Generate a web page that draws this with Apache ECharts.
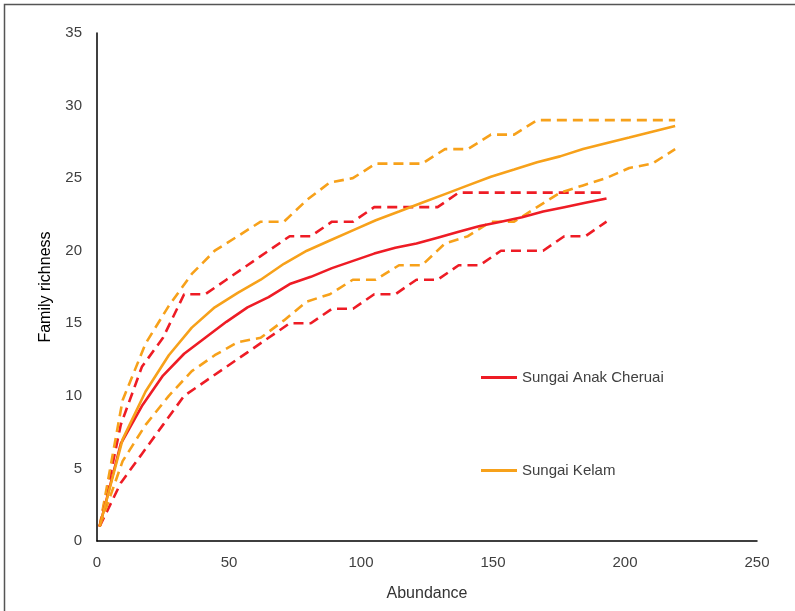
<!DOCTYPE html>
<html>
<head>
<meta charset="utf-8">
<script src="https://cdn.jsdelivr.net/npm/echarts@6/dist/echarts.min.js"></script>
<style>
html, body { margin: 0; padding: 0; background: #fff; }
#main { width: 795px; height: 611px; }
</style>
</head>
<body>
<div id="main"></div>
<script>
// Sungai Anak Cheruai
var cheruaiX = [1, 9, 17, 25, 33, 41, 49, 57, 65, 73, 81, 89, 97, 105, 113, 121, 129, 137, 145, 153, 161, 169, 177, 185, 193];
var cheruaiMean = [1, 6.7, 9.3, 11.4, 12.9, 14.0, 15.1, 16.1, 16.8, 17.7, 18.2, 18.8, 19.3, 19.8, 20.2, 20.5, 20.9, 21.3, 21.7, 22.0, 22.3, 22.7, 23.0, 23.3, 23.6];
var cheruaiUpper = [1, 8, 12, 14, 17, 17, 18, 19, 20, 21, 21, 22, 22, 23, 23, 23, 23, 24, 24, 24, 24, 24, 24, 24, 24];
var cheruaiLower = [1, 4, 6, 8, 10, 11, 12, 13, 14, 15, 15, 16, 16, 17, 17, 18, 18, 19, 19, 20, 20, 20, 21, 21, 22];

// Sungai Kelam
var kelamX = [1, 9.7, 18.4, 27.2, 35.9, 44.6, 53.3, 62, 70.8, 79.5, 88.2, 96.9, 105.6, 114.4, 123.1, 131.8, 140.5, 149.2, 158, 166.7, 175.4, 184.1, 192.8, 201.6, 210.3, 219];
var kelamMean = [1, 7, 10.3, 12.8, 14.7, 16.1, 17.1, 18.0, 19.1, 20.0, 20.7, 21.4, 22.1, 22.7, 23.3, 23.9, 24.5, 25.1, 25.6, 26.1, 26.5, 27.0, 27.4, 27.8, 28.2, 28.6];
var kelamUpper = [1, 9.7, 13.6, 16.2, 18.4, 20, 21, 22, 22, 23.5, 24.7, 25, 26, 26, 26, 27, 27, 28, 28, 29, 29, 29, 29, 29, 29, 29];
var kelamLower = [1, 5.5, 8, 10, 11.7, 12.8, 13.7, 14, 15.2, 16.5, 17, 18, 18, 19, 19, 20.5, 21, 22, 22, 23, 24, 24.5, 25, 25.7, 26, 27];

var xTicks = [0, 50, 100, 150, 200, 250];
var yTicks = [0, 5, 10, 15, 20, 25, 30, 35];

var red = '#EE1C25';
var orange = '#F7A11A';

function pairs(xs, ys) {
    return xs.map(function (x, i) { return [x, ys[i]]; });
}

function lineSeries(name, xs, ys, color, dashed) {
    return {
        name: name,
        type: 'line',
        data: pairs(xs, ys),
        showSymbol: false,
        symbol: 'none',
        silent: true,
        z: dashed ? 2 : 3,
        lineStyle: {
            color: color,
            width: 2.6,
            type: dashed ? [10, 6] : 'solid'
        },
        itemStyle: { color: color }
    };
}

var dom = document.getElementById('main');
var myChart = echarts.init(dom);
var font = '"Liberation Sans", Arial, sans-serif';

var option = {
    animation: false,
    textStyle: { fontFamily: font },
    grid: { left: 97, right: 38, top: 33, bottom: 70 },
    legend: {
        data: ['Sungai Anak Cheruai', 'Sungai Kelam'],
        orient: 'vertical',
        left: 476,
        top: 365,
        itemWidth: 36,
        itemHeight: 3,
        itemGap: 78,
        icon: 'rect',
        textStyle: { color: '#404040', fontSize: 15, fontFamily: font }
    },
    xAxis: {
        type: 'value',
        min: xTicks[0],
        max: xTicks[xTicks.length - 1],
        interval: 50,
        name: 'Abundance',
        nameLocation: 'middle',
        nameGap: 45,
        nameTextStyle: { color: '#333', fontSize: 16 },
        axisLine: { show: true, onZero: false, lineStyle: { color: '#000', width: 1.5 } },
        axisTick: { show: false },
        splitLine: { show: false },
        axisLabel: { color: '#404040', fontSize: 15, margin: 14 }
    },
    yAxis: {
        type: 'value',
        min: yTicks[0],
        max: yTicks[yTicks.length - 1],
        interval: 5,
        name: 'Family richness',
        nameLocation: 'middle',
        nameGap: 43,
        nameTextStyle: { color: '#000', fontSize: 16 },
        axisLine: { show: true, lineStyle: { color: '#000', width: 1.5 } },
        axisTick: { show: false },
        splitLine: { show: false },
        axisLabel: { color: '#404040', fontSize: 15, margin: 15 }
    },
    graphic: [{
        type: 'polyline',
        silent: true,
        shape: { points: [[4.5, 611], [4.5, 4.5], [795, 4.5]] },
        style: { stroke: '#555', lineWidth: 1.5, fill: null }
    }],
    series: [
        lineSeries('Cheruai upper', cheruaiX, cheruaiUpper, red, true),
        lineSeries('Cheruai lower', cheruaiX, cheruaiLower, red, true),
        lineSeries('Kelam upper', kelamX, kelamUpper, orange, true),
        lineSeries('Kelam lower', kelamX, kelamLower, orange, true),
        lineSeries('Sungai Anak Cheruai', cheruaiX, cheruaiMean, red, false),
        lineSeries('Sungai Kelam', kelamX, kelamMean, orange, false)
    ]
};

if (option && typeof option === 'object') {
    myChart.setOption(option, true);
}
</script>
</body>
</html>
